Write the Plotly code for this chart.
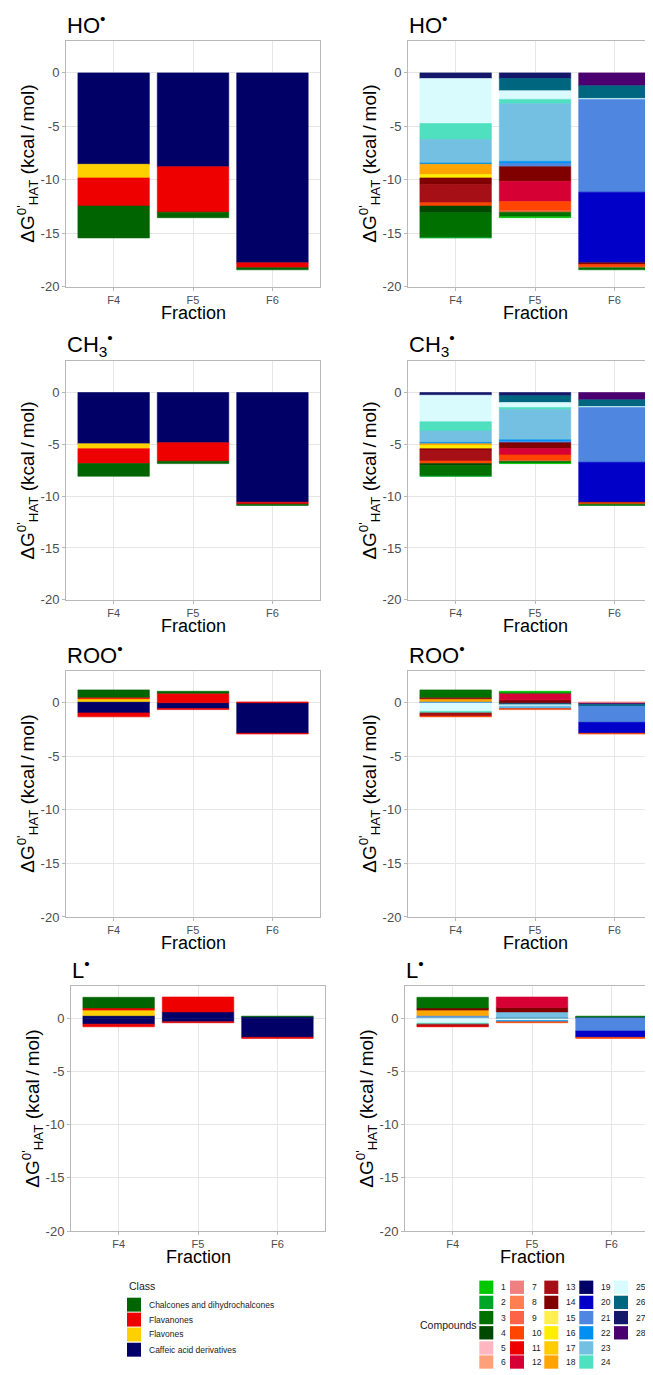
import plotly.graph_objects as go

W, H = 653, 1375          # reference picture size
OFF = 8                   # default margin of the html body
FW, FH = W - OFF, H - OFF  # figure size so that the visible page matches the picture

# ---------------- data ----------------
fractions = ["F4", "F5", "F6"]
compound_ids = list(range(1, 29))

class_names = ["Chalcones and dihydrochalcones", "Flavanones", "Flavones",
               "Caffeic acid derivatives"]
class_colors = ["#006400", "#EE0000", "#FFD000", "#000066"]
# class index of compounds 1..28
compound_class = [0] * 4 + [1] * 10 + [2] * 4 + [3] * 10
compound_colors = [
    "#00C800", "#00A628", "#007000", "#004800",
    "#FFB6C1", "#FFA07A", "#F08080", "#FF7F50", "#FF6347", "#FF4500",
    "#EE0000", "#D70035", "#A50F15", "#800000",
    "#FFF050", "#FFEE00", "#FFCC00", "#FFA500",
    "#000066", "#0000C8", "#4F86E0", "#0090F0", "#74C0E3", "#4FE0C0",
    "#DAFBFD", "#006680", "#14186A", "#4B0070",
]

# Contribution of each compound (1..28) to dG0'HAT (kcal/mol), per radical and fraction
HO_F4 = [0, -0.03, -2.33, -0.62,
         0, 0, 0, 0, 0, -0.30, 0, 0, -1.71, -0.62,
         0, -0.32, 0, -0.96,
         0, 0, 0, -0.12, -2.20, -1.49, -4.21, 0, -0.53, 0]
HO_F5 = [-0.08, 0, -0.44, 0,
         0, 0, 0, 0, -0.14, -0.85, 0, -1.89, 0, -1.37,
         0, 0, 0, 0,
         0, 0, -0.28, -0.22, -5.40, -0.40, -0.81, -1.14, -0.53, 0]
HO_F6 = [0, 0, -0.19, 0,
         0, 0, 0, -0.06, 0, -0.25, 0, 0, 0, -0.15,
         0, 0, 0, 0,
         0, -6.61, -8.68, 0, 0, 0, -0.09, -1.18, 0, -1.21]

CH3_F4 = [0, -0.03, -1.02, -0.17,
          0, 0, 0, 0, 0, -0.26, 0, 0, -1.05, -0.13,
          0, -0.30, 0, -0.18,
          0, 0, 0, -0.13, -1.09, -0.90, -2.56, 0, -0.26, 0]
CH3_F5 = [-0.05, 0, -0.18, 0,
          0, 0, 0, 0, -0.06, -0.55, 0, -0.63, 0, -0.55,
          0, 0, 0, 0,
          0, 0, -0.09, -0.19, -2.92, -0.20, -0.47, -0.65, -0.32, 0]
CH3_F6 = [0, 0, -0.13, 0,
          0, 0, 0, 0, 0, -0.13, 0, 0, 0, -0.06,
          0, 0, 0, 0,
          0, -3.85, -5.29, 0, 0, 0, -0.08, -0.65, 0, -0.71]

ROO_F4 = [0, 0, 0.68, 0,
          0, 0, 0, 0, 0, -0.07, 0, 0, -0.30, 0.15,
          0, 0, 0, 0.25,
          0, 0, 0, 0.06, 0, -0.15, -0.80, 0, 0.06, 0]
ROO_F5 = [0.08, 0, 0.10, 0,
          0, 0, 0, 0, 0, -0.09, 0, 0.62, 0, 0.27,
          0, 0, 0, 0,
          0, 0, 0, -0.05, -0.20, 0, -0.10, -0.12, -0.08, 0]
ROO_F6 = [0, 0, 0, 0,
          0, 0, 0.08, 0, 0, -0.07, 0, 0, 0, 0,
          0, 0, 0, 0,
          0, -1.02, -1.49, 0, 0, 0, 0, -0.19, 0, -0.15]

L_F4 = [0, 0, 1.00, 0,
        0, 0, 0, 0, 0, 0, -0.07, 0, -0.18, 0.20,
        0, 0, 0, 0.52,
        0, 0, 0.08, 0, 0.10, -0.09, -0.47, 0, 0.06, 0]
L_F5 = [0, 0, 0, 0,
        0, 0, 0, 0, 0, -0.09, 0, 0.99, 0, 0.41,
        0, 0, 0, 0,
        0, 0, 0, -0.12, 0.53, 0, -0.16, -0.06, 0.06, 0]
L_F6 = [0, 0, 0.06, 0,
        0, 0, 0, 0, 0, -0.10, 0, 0, 0, 0,
        0, 0, 0, 0,
        0, -0.59, -1.21, 0, 0, 0, 0, 0.06, 0, 0.07]

radical_titles = ["HO<sup>•</sup>", "CH<sub>3</sub><sup>•</sup>",
                  "ROO<sup>•</sup>", "L<sup>•</sup>"]
radical_data = [(HO_F4, HO_F5, HO_F6), (CH3_F4, CH3_F5, CH3_F6),
                (ROO_F4, ROO_F5, ROO_F6), (L_F4, L_F5, L_F6)]

y_ticks = [0, -5, -10, -15, -20]
y_tick_labels = ["0", "-5", "-10", "-15", "-20"]

# ---------------- layout geometry (picture pixels) ----------------
# per row: plot top, plot bottom, left panel x0, left panel x1, right panel x0
rows_geom = [
    (41.0, 288.3, 66.0, 320.0, 408.0),
    (363.5, 603.3, 66.0, 320.0, 408.0),
    (674.5, 922.3, 66.0, 320.0, 408.0),
    (992.0, 1238.3, 71.0, 325.0, 405.0),
]
PX_PER_CAT = 79.4


def fx(px):
    return (px - OFF) / FW


def fy(py):
    return 1 - (py - OFF) / FH


def nz(v):
    return v if v != 0 else None


FONT = "Liberation Sans, Arial, Helvetica, sans-serif"

fig = go.Figure()
layout = {}
annotations = []
shapes = []

ax = 0
for r, (title, data) in enumerate(zip(radical_titles, radical_data)):
    top, bottom, lx0, lx1, rx0 = rows_geom[r]
    for side in (0, 1):
        ax += 1
        xa = "x" if ax == 1 else f"x{ax}"
        ya = "y" if ax == 1 else f"y{ax}"
        xkey = "xaxis" if ax == 1 else f"xaxis{ax}"
        ykey = "yaxis" if ax == 1 else f"yaxis{ax}"

        if side == 0:
            # class panel: sum the compounds of each class (positive and negative parts)
            for c in reversed(range(4)):
                members = [k for k in range(28) if compound_class[k] == c]
                for sign in (1, -1):
                    vals = []
                    for f in range(3):
                        s = sum(data[f][k] for k in members if data[f][k] * sign > 0)
                        vals.append(nz(round(s, 4)))
                    fig.add_trace(go.Bar(
                        x=fractions, y=vals, xaxis=xa, yaxis=ya, width=0.9,
                        marker=dict(color=class_colors[c],
                                    line=dict(width=0.6, color=class_colors[c])),
                        name=class_names[c], showlegend=False))
        else:
            # compound panel: compound 28 nearest zero, compound 1 farthest
            for k in reversed(range(28)):
                vals = [nz(data[f][k]) for f in range(3)]
                fig.add_trace(go.Bar(
                    x=fractions, y=vals, xaxis=xa, yaxis=ya, width=0.9,
                    marker=dict(color=compound_colors[k],
                                line=dict(width=0.6, color=compound_colors[k])),
                    name=str(compound_ids[k]), showlegend=False))

        if side == 0:
            x0, x1 = lx0, lx1
        else:
            x0, x1 = rx0, W
        rng_end = -0.6 + (x1 - x0) / PX_PER_CAT

        layout[xkey] = dict(
            domain=[fx(x0), min(1.0, fx(x1))], anchor=ya, type="category",
            categoryorder="array", categoryarray=fractions,
            range=[-0.6, rng_end], showgrid=True, gridcolor="#E6E6E6", gridwidth=1,
            showline=True, linecolor="#B8B8B8", linewidth=1, mirror=True,
            ticks="outside", ticklen=3, tickcolor="#B8B8B8",
            tickfont=dict(size=11, color="#4D4D4D", family=FONT),
            zeroline=False, fixedrange=True)
        layout[ykey] = dict(
            domain=[fy(bottom), fy(top)], anchor=xa, range=[-20, 3],
            tickvals=y_ticks, ticktext=y_tick_labels, showgrid=True,
            gridcolor="#E6E6E6", gridwidth=1, showline=True, linecolor="#B8B8B8",
            linewidth=1, mirror=(side == 0), ticks="outside", ticklen=3,
            tickcolor="#B8B8B8", tickfont=dict(size=13, color="#4D4D4D", family=FONT),
            zeroline=False, fixedrange=True)

        # panel title
        annotations.append(dict(
            text=title, xref="paper", yref="paper", x=fx(x0 - 1), y=fy(top - 17),
            xanchor="left", yanchor="middle", showarrow=False,
            font=dict(size=22, color="black", family=FONT)))
        # y axis title
        annotations.append(dict(
            text="ΔG<sup>0'</sup><sub>HAT</sub> (kcal\u2009/\u2009mol)",
            xref="paper", yref="paper", x=fx(x0 - 38), y=fy((top + bottom) / 2),
            xanchor="center", yanchor="middle", textangle=-90, showarrow=False,
            font=dict(size=19, color="black", family=FONT)))
        # x axis title
        cx = x0 + (1.0 + 0.6) * PX_PER_CAT
        annotations.append(dict(
            text="Fraction", xref="paper", yref="paper", x=fx(cx), y=fy(bottom + 26.5),
            xanchor="center", yanchor="middle", showarrow=False,
            font=dict(size=18, color="black", family=FONT)))

# ---------------- legends (drawn manually) ----------------
annotations.append(dict(text="Class", xref="paper", yref="paper", x=fx(127), y=fy(1294),
                        xanchor="left", yanchor="middle", showarrow=False,
                        font=dict(size=10.5, color="#1A1A1A", family=FONT)))
class_rows = [1312.3, 1327.3, 1342.3, 1357.6]
for i, name in enumerate(class_names):
    cy = class_rows[i]
    shapes.append(dict(type="rect", xref="paper", yref="paper",
                       x0=fx(127), x1=fx(141), y0=fy(cy + 7), y1=fy(cy - 7),
                       fillcolor=class_colors[i], line=dict(width=0)))
    annotations.append(dict(text=name, xref="paper", yref="paper", x=fx(146.5), y=fy(cy),
                            xanchor="left", yanchor="middle", showarrow=False,
                            font=dict(size=8.5, color="#1A1A1A", family=FONT)))

col_x = [479.3, 510.0, 544.3, 579.3, 614.0]
row_y = [1294.8, 1310.0, 1325.3, 1340.6, 1355.8, 1370.0]
annotations.append(dict(text="Compounds", xref="paper", yref="paper", x=fx(418), y=fy(1333),
                        xanchor="left", yanchor="middle", showarrow=False,
                        font=dict(size=10.5, color="#1A1A1A", family=FONT)))
for k, cid in enumerate(compound_ids):
    c, rr = divmod(k, 6)
    sx, sy = col_x[c], row_y[rr]
    shapes.append(dict(type="rect", xref="paper", yref="paper",
                       x0=fx(sx), x1=fx(sx + 14), y0=fy(sy + 6.7), y1=fy(sy - 6.7),
                       fillcolor=compound_colors[k], line=dict(width=0)))
    annotations.append(dict(text=str(cid), xref="paper", yref="paper", x=fx(sx + 19.5),
                            y=fy(sy), xanchor="left", yanchor="middle", showarrow=False,
                            font=dict(size=8.5, color="#1A1A1A", family=FONT)))

fig.update_layout(
    width=FW, height=FH, margin=dict(l=0, r=0, t=0, b=0),
    barmode="relative", bargap=0.1,
    paper_bgcolor="white", plot_bgcolor="white",
    font=dict(family=FONT), showlegend=False,
    annotations=annotations, shapes=shapes, **layout)

fig.write_html("out.html", config={"displayModeBar": False})
